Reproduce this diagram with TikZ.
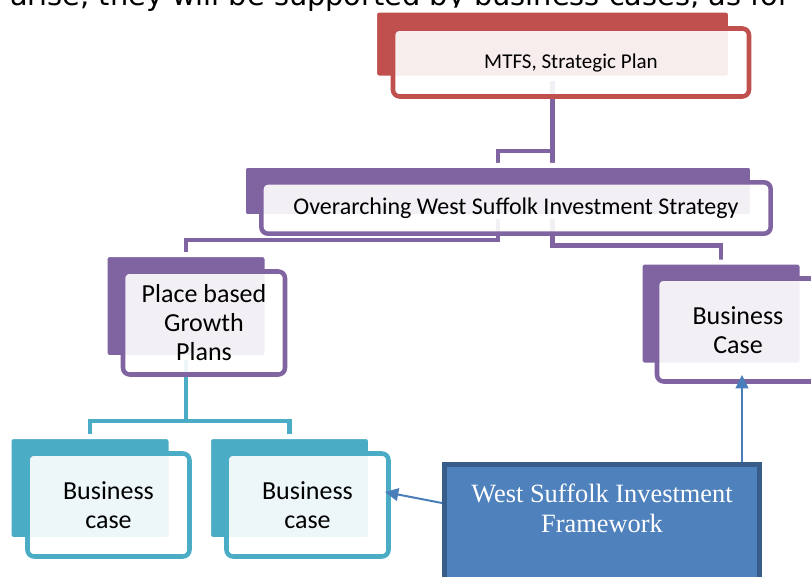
\documentclass[tikz,border=0pt]{standalone}
\usepackage{fontspec}
\usepackage{tikz}
\usetikzlibrary{arrows.meta,positioning,backgrounds}

\newfontfamily\boxfont{Carlito}
\newfontfamily\leadfont{DejaVu Sans}
\newfontfamily\framefont{Liberation Serif}

\definecolor{planred}{HTML}{C0504D}
\definecolor{stratpurple}{HTML}{8064A2}
\definecolor{caseteal}{HTML}{4BACC6}
\definecolor{frameblue}{HTML}{4F81BD}
\definecolor{frameedge}{HTML}{385D8A}
\definecolor{arrowblue}{HTML}{4A7EBB}

\tikzset{
  backbox/.style={fill=#1, draw=white, line width=3.75pt, rounded corners=3pt, inner sep=0pt},
  frontbox/.style={draw=#1, line width=3.4pt, fill=white, fill opacity=0.9, text opacity=1,
                   rounded corners=5pt, inner sep=0pt, align=center},
  smallbox/.style={minimum width=121.5pt, minimum height=77.25pt},
  link/.style={draw=#1, line width=3.5pt},
  fwarrow/.style={draw=arrowblue, line width=1.5pt, -{Triangle[length=10pt,width=9.5pt]}},
  framebox/.style={draw=frameedge, fill=frameblue, line width=3.75pt, inner sep=0pt},
  frametext/.style={text=white, align=center, inner sep=0pt,
                    font=\framefont\fontsize{19.8}{22.5}\selectfont},
  casetext/.style={font=\boxfont\fontsize{19.5}{21.75}\selectfont}
}

\begin{document}
\begin{tikzpicture}[x=0.75pt,y=-0.75pt]
    \useasboundingbox (0,0) rectangle (811,576);
    \clip (0,0) rectangle (811,576);

    % draw the line of text above
    \node[anchor=base west, inner sep=0pt, font=\leadfont\fontsize{21.6}{26}\selectfont] (lead) at (10,5.5)
      {arise, they will be supported by business cases, as fol};

    % draw back boxes
    \node[backbox=planred, minimum width=267pt, minimum height=51pt] (mtfsback) at (552.5,44) {};
    \node[backbox=stratpurple, minimum width=382pt, minimum height=38.5pt] (overback) at (498,191) {};
    \node[backbox=stratpurple, smallbox] (placeback) at (186,306) {};
    \node[backbox=stratpurple, smallbox] (caseback) at (721,313.5) {};
    \node[backbox=caseteal, smallbox] (bcaback) at (90,488) {};
    \node[backbox=caseteal, smallbox] (bcbback) at (289.5,488) {};

    % draw connectors
    \begin{pgfonlayer}{background}
      \draw[link=stratpurple] (mtfsback.south) |- ([yshift=9pt]overback.north) -- (overback.north);
      \draw[link=stratpurple] (mtfsback.south) |- ([yshift=10.5pt]caseback.north) -- (caseback.north);
      \draw[link=stratpurple] (overback.south) |- ([yshift=9pt]placeback.north) -- (placeback.north);
      \draw[link=caseteal] (placeback.south) |- ([yshift=9.75pt]bcaback.north) -- (bcaback.north);
      \draw[link=caseteal] (placeback.south) |- ([yshift=9.75pt]bcbback.north) -- (bcbback.north);
    \end{pgfonlayer}

    % draw front boxes
    \node[frontbox=planred, minimum width=267pt, minimum height=51pt,
          font=\boxfont\fontsize{15.8}{19}\selectfont] (mtfs) at (571,62.5) {MTFS, Strategic Plan};
    \node[frontbox=stratpurple, minimum width=382pt, minimum height=38.5pt,
          font=\boxfont\fontsize{18}{22}\selectfont] (over) at (516,208)
          {Overarching West Suffolk Investment Strategy};
    \node[frontbox=stratpurple, smallbox, casetext] (place) at (204,323) {Place based\\Growth\\Plans};
    \node[frontbox=stratpurple, smallbox, casetext] (bcase) at (738,330) {Business\\Case};
    \node[frontbox=caseteal, smallbox, casetext] (bca) at (108.5,505) {Business\\case};
    \node[frontbox=caseteal, smallbox, casetext] (bcb) at (307.5,505) {Business\\case};

    % draw the framework box
    \node[framebox, anchor=north, minimum width=236.25pt, minimum height=120pt] (wsif) at (602,462) {};
    \node[frametext] (wsiftext) at (602,508) {West Suffolk Investment\\Framework};

    % draw arrows
    \coordinate (bcbin) at (385,492);
    \coordinate (bcasein) at (742,375);
    \draw[fwarrow] ([yshift=-30.75pt]wsif.north west) -- (bcbin);
    \draw[fwarrow] ([xshift=225pt]wsif.north west) -- (bcasein);
\end{tikzpicture}
\end{document}
